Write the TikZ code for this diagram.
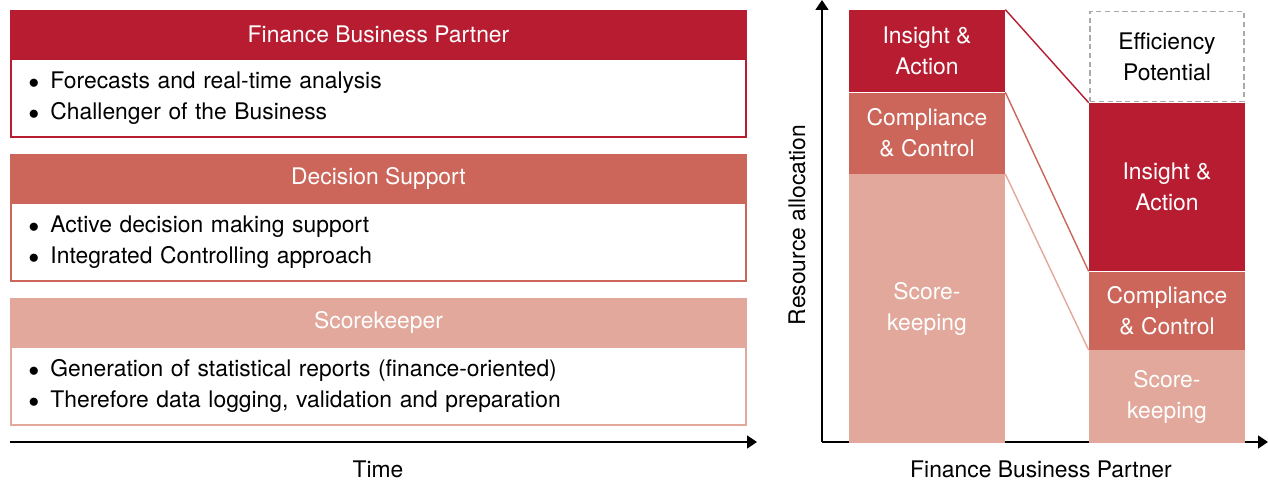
\documentclass[tikz,border=0pt]{standalone}
\usepackage{fontspec}
\setmainfont{TeX Gyre Heros}
\definecolor{fbpred}{RGB}{183,28,48}
\definecolor{dsred}{RGB}{204,102,91}
\definecolor{skred}{RGB}{225,168,155}
\definecolor{effgray}{RGB}{170,170,170}
\usetikzlibrary{arrows.meta,positioning}

\begin{document}
\begin{tikzpicture}[
  lbl/.style={font=\fontsize{13}{17.6}\selectfont},
  hdr/.style={lbl,minimum width=14.74cm,minimum height=0.96cm,inner sep=0pt,text=white},
  body/.style={lbl,draw,line width=1pt,minimum width=14.7cm,minimum height=1.56cm,
    text width=14.0cm,inner xsep=0.33cm,align=left},
  seg/.style={lbl,minimum width=3.12cm,inner sep=0pt,align=center,text=white},
  axis/.style={line width=1pt,-{Triangle[width=0.26cm,length=0.2cm]}},
  link/.style={line width=0.8pt}
]
  \useasboundingbox (0,0) rectangle (25.36,9.68);

  % roles over time
  \node[hdr,fill=fbpred] (h1) at (7.57,9.0) {Finance Business Partner};
  \node[body,draw=fbpred,below=0pt of h1] (b1) {$\bullet$\enspace Forecasts and real-time analysis\\
    $\bullet$\enspace Challenger of the Business};
  \node[hdr,fill=dsred] (h2) at (7.57,6.12) {Decision Support};
  \node[body,draw=dsred,below=0pt of h2] (b2) {$\bullet$\enspace Active decision making support\\
    $\bullet$\enspace Integrated Controlling approach};
  \node[hdr,fill=skred] (h3) at (7.57,3.24) {Scorekeeper};
  \node[body,draw=skred,below=0pt of h3] (b3) {$\bullet$\enspace Generation of statistical reports (finance-oriented)\\
    $\bullet$\enspace Therefore data logging, validation and preparation};

  \coordinate (t0) at (0.2,0.84);
  \coordinate (t1) at (15.14,0.84);
  \draw[axis] (t0) -- (t1);
  \node[lbl] (time) at (7.56,0.3) {Time};

  % resource allocation chart
  \coordinate (o) at (16.44,0.84);
  \coordinate (ytop) at (16.44,9.68);
  \coordinate (xend) at (25.36,0.84);
  \draw[axis] (o) -- (ytop);
  \draw[axis] (o) -- (xend);
  \node[lbl,rotate=90] (ylab) at (15.94,5.18) {Resource allocation};
  \node[lbl] (xlab) at (20.82,0.3) {Finance Business Partner};

  \node[seg,fill=fbpred,minimum height=1.64cm] (ia1) at (18.54,8.66) {Insight \&\\Action};
  \node[seg,fill=dsred,minimum height=1.62cm,below=0pt of ia1] (cc1) {Compliance\\\& Control};
  \node[seg,fill=skred,minimum height=5.38cm,below=0pt of cc1] (sk1) {Score-\\keeping};

  \node[seg,draw=effgray,line width=1pt,dash pattern=on 3pt off 2pt,text=black,
    minimum width=3.08cm,minimum height=1.8cm] (eff) at (23.34,8.55) {Efficiency\\Potential};
  \node[seg,fill=fbpred,minimum height=3.36cm] (ia2) at (23.34,5.94) {Insight \&\\Action};
  \node[seg,fill=dsred,minimum height=1.56cm,below=0pt of ia2] (cc2) {Compliance\\\& Control};
  \node[seg,fill=skred,minimum height=1.86cm,below=0pt of cc2] (sk2) {Score-\\keeping};

  \draw[link,fbpred] (ia1.north east) -- (ia2.north west);
  \draw[link,dsred] (cc1.north east) -- (cc2.north west);
  \draw[link,skred] (sk1.north east) -- (sk2.north west);
\end{tikzpicture}
\end{document}
